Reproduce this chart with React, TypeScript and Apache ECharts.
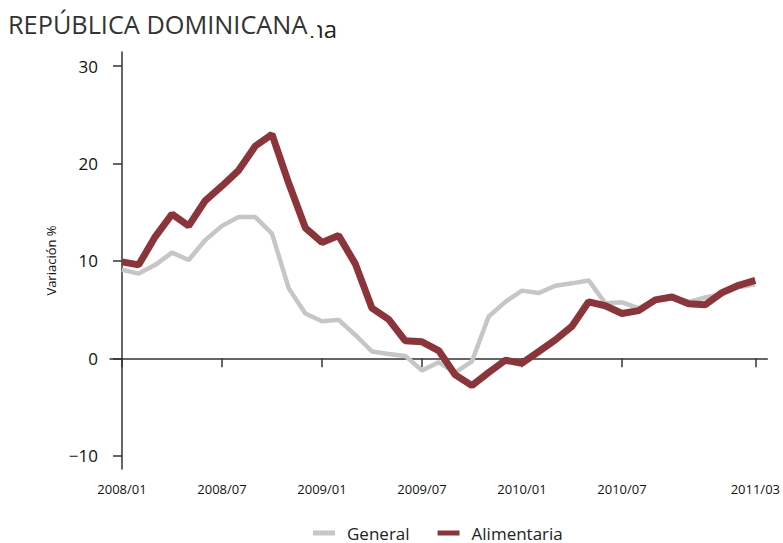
import React, { useEffect, useRef } from "react";
import * as echarts from "echarts";

const months = [
  "2008/01","2008/02","2008/03","2008/04","2008/05","2008/06","2008/07","2008/08","2008/09","2008/10","2008/11","2008/12",
  "2009/01","2009/02","2009/03","2009/04","2009/05","2009/06","2009/07","2009/08","2009/09","2009/10","2009/11","2009/12",
  "2010/01","2010/02","2010/03","2010/04","2010/05","2010/06","2010/07","2010/08","2010/09","2010/10","2010/11","2010/12",
  "2011/01","2011/02","2011/03",
];

const general = [
  9.1, 8.7, 9.6, 10.85, 10.1, 12.15, 13.6, 14.5, 14.5, 12.8, 7.2, 4.6,
  3.8, 3.95, 2.4, 0.7, 0.45, 0.25, -1.25, -0.4, -1.45, -0.3, 4.3, 5.8,
  6.95, 6.7, 7.45, 7.7, 8.0, 5.65, 5.75, 5.15, 6.0, 6.3, 5.8, 6.25,
  6.6, 7.3, 7.6,
];

const alimentaria = [
  9.9, 9.6, 12.5, 14.8, 13.6, 16.2, 17.7, 19.3, 21.8, 23.0, 18.0, 13.4,
  11.9, 12.6, 9.7, 5.15, 4.0, 1.8, 1.7, 0.8, -1.7, -2.8, -1.45, -0.2,
  -0.5, 0.7, 1.9, 3.3, 5.8, 5.4, 4.6, 4.9, 6.0, 6.3, 5.6, 5.5,
  6.75, 7.5, 8.0,
];

const xTickIndex = [0, 6, 12, 18, 24, 30, 38];
const yTicks = [-10, 0, 10, 20, 30];

const FONT = "'Open Sans', 'Noto Sans', sans-serif";

export default function App() {
  const ref = useRef<HTMLDivElement>(null);
  useEffect(() => {
    if (!ref.current) return;
    const chart = echarts.init(ref.current, undefined, { renderer: "svg" });
    chart.setOption({
      animation: false,
      backgroundColor: "#ffffff",
      textStyle: { fontFamily: FONT },
      grid: { left: 110, right: 13, top: 52, bottom: 74 },
      legend: {
        left: 313,
        top: 524,
        icon: "rect",
        itemWidth: 22,
        itemHeight: 5,
        itemGap: 28,
        padding: 0,
        textStyle: {
          fontSize: 17,
          lineHeight: 18,
          color: "#222",
          fontFamily: FONT,
          padding: [0, 0, 0, 7],
        },
        data: ["General", "Alimentaria"],
      },
      graphic: [
        {
          type: "text",
          left: 309,
          top: 16,
          style: { text: "na", fontSize: 24, fill: "#222", fontFamily: FONT },
        },
        {
          type: "text",
          left: 8,
          top: 11,
          style: {
            text: "REPÚBLICA DOMINICANA",
            fontSize: 25.3,
            fill: "#333",
            fontFamily: FONT,
            backgroundColor: "#fff",
            padding: [0, 10, 0, 0],
          },
        },
      ],
      xAxis: {
        type: "value",
        min: -0.72,
        max: 38.72,
        splitLine: { show: false },
        axisLine: { show: true, lineStyle: { color: "#333", width: 1.5 } },
        axisTick: {
          show: true,
          length: 9,
          customValues: xTickIndex,
          lineStyle: { color: "#333", width: 1.5 },
        },
        axisLabel: {
          customValues: xTickIndex,
          margin: 13,
          fontSize: 13,
          color: "#111",
          fontFamily: FONT,
          formatter: (v: number) => months[Math.round(v)] ?? "",
        },
      },
      yAxis: {
        type: "value",
        min: -11.36,
        max: 31.45,
        name: "Variación %",
        nameLocation: "middle",
        nameGap: 37,
        nameTextStyle: { fontSize: 13, color: "#111", fontFamily: FONT },
        splitLine: { show: false },
        axisLine: { show: true, lineStyle: { color: "#333", width: 1.5 } },
        axisTick: {
          show: true,
          length: 9,
          customValues: yTicks,
          lineStyle: { color: "#333", width: 1.5 },
        },
        axisLabel: {
          customValues: yTicks,
          margin: 12,
          fontSize: 17,
          color: "#111",
          fontFamily: FONT,
          formatter: (v: number) => (v < 0 ? "\u2212" + Math.abs(v) : String(v)),
        },
      },
      series: [
        {
          name: "General",
          type: "line",
          data: general.map((v, i) => [i, v]),
          showSymbol: false,
          symbol: "none",
          color: "#c6c6c6",
          lineStyle: { color: "#c6c6c6", width: 4.5 },
        },
        {
          name: "Alimentaria",
          type: "line",
          data: alimentaria.map((v, i) => [i, v]),
          showSymbol: false,
          symbol: "none",
          color: "#8b343a",
          lineStyle: { color: "#8b343a", width: 7 },
        },
      ],
    });
    return () => chart.dispose();
  }, []);
  return <div ref={ref} style={{ width: 783, height: 543, position: "absolute", left: 0, top: 0 }} />;
}
